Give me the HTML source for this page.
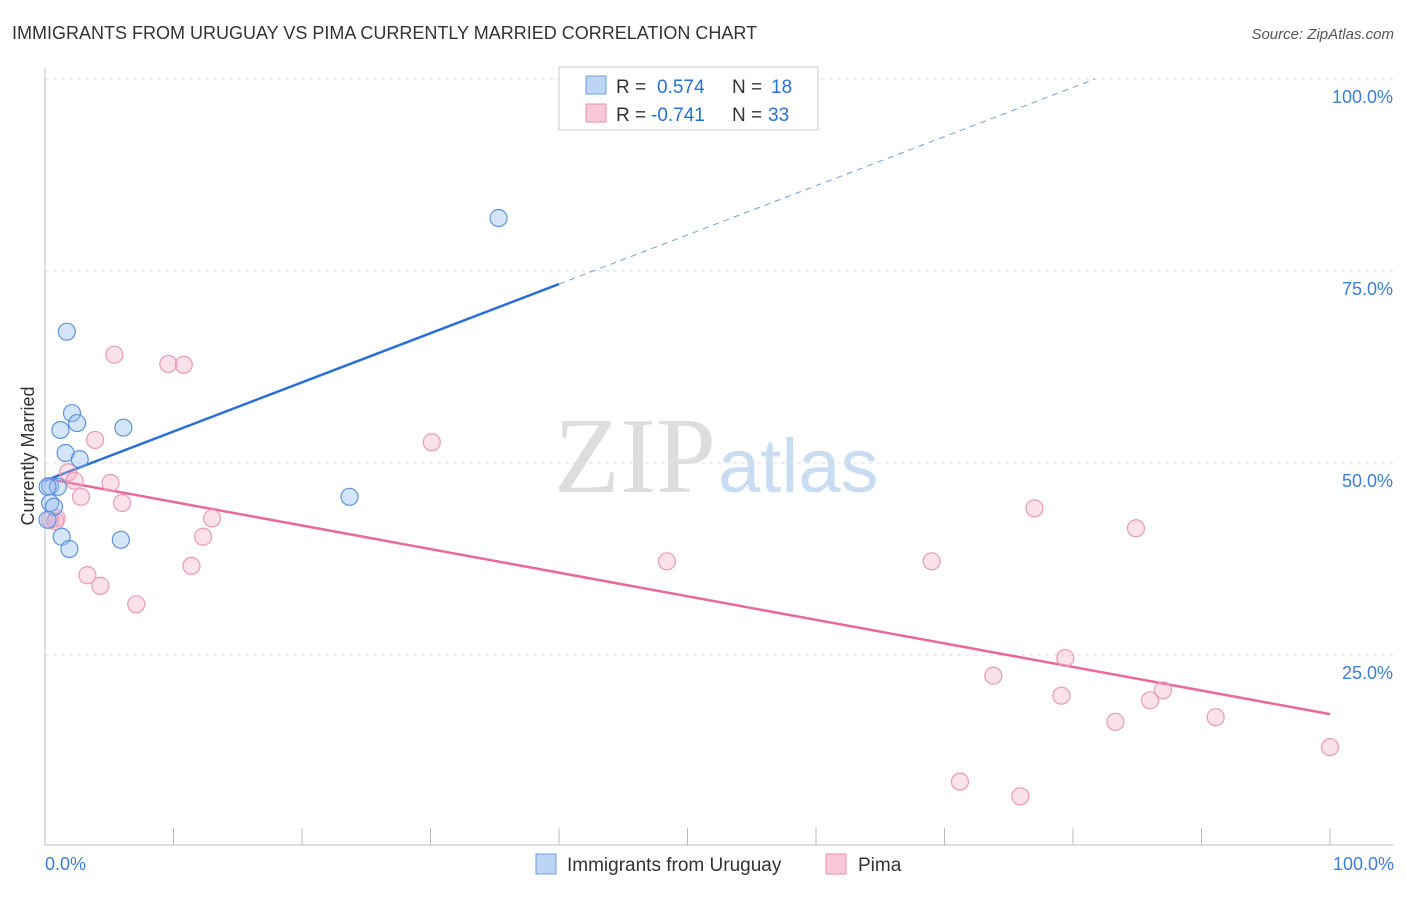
<!DOCTYPE html>
<html><head><meta charset="utf-8"><style>
body{margin:0;background:#fff;font-family:"Liberation Sans",sans-serif;}
</style></head><body>
<svg id="c" width="1406" height="892" xmlns="http://www.w3.org/2000/svg">
<text x="12" y="39" font-size="18" fill="#333">IMMIGRANTS FROM URUGUAY VS PIMA CURRENTLY MARRIED CORRELATION CHART</text>
<text x="1394" y="39" font-size="15" fill="#555" text-anchor="end" font-style="italic">Source: ZipAtlas.com</text>
<text x="716" y="492" font-size="108" fill="#ddd" text-anchor="end" font-family="Liberation Serif">ZIP</text>
<text x="718" y="492" font-size="76" fill="#c9dcf2">atlas</text>
<text transform="translate(34,456) rotate(-90)" font-size="18" fill="#333" text-anchor="middle">Currently Married</text>
<g id="grid"></g><g id="lines"></g><g id="pts"></g>
<g>
<rect x="559" y="67" width="259" height="63" fill="#fff" stroke="#ccc"/>
<rect x="586" y="76" width="20" height="18" fill="#bcd5f5" stroke="#6f9fe0"/>
<rect x="586" y="104" width="20" height="18" fill="#f9c8d6" stroke="#eb8fab"/>
<text x="616" y="93" font-size="19" fill="#333">R = <tspan x="657" fill="#2a6fd6">0.574</tspan><tspan x="732" fill="#333">N = </tspan><tspan x="771" fill="#2a6fd6">18</tspan></text>
<text x="616" y="121" font-size="19" fill="#333">R = <tspan x="651" fill="#2a6fd6">-0.741</tspan><tspan x="732" fill="#333">N = </tspan><tspan x="768" fill="#2a6fd6">33</tspan></text>
</g>
<g>
<rect x="536" y="854" width="20" height="20" fill="#bcd5f5" stroke="#6f9fe0"/>
<text x="567" y="871" font-size="19" fill="#333">Immigrants from Uruguay</text>
<rect x="826" y="854" width="20" height="20" fill="#f9c8d6" stroke="#eb8fab"/>
<text x="858" y="871" font-size="19" fill="#333">Pima</text>
</g>
<text x="45" y="870" font-size="18" fill="#3b7dd8">0.0%</text>
<text x="1394" y="870" font-size="18" fill="#3b7dd8" text-anchor="end">100.0%</text>
</svg>
<script>
const blueX=[1.7,2.1,2.5,1.2,1.6,2.7,6.1,0.4,1.0,0.4,0.7,1.3,1.9,5.9,23.7,35.3,0.2,0.2];
const blueY=[67.1,56.5,55.2,54.3,51.3,50.5,54.6,47.0,46.9,44.8,44.3,40.4,38.8,40.0,45.6,81.9,46.9,42.6];
const pinkX=[5.4,9.6,10.8,3.9,30.1,1.8,2.3,5.1,2.8,6.0,13.0,0.9,0.4,12.3,11.4,3.3,4.3,7.1,48.4,69.0,77.0,84.9,73.8,79.4,79.1,83.3,86.0,87.0,91.1,100,71.2,75.9,0.8];
const pinkY=[64.1,62.9,62.8,53.0,52.7,48.8,47.7,47.4,45.6,44.8,42.8,42.8,42.6,40.4,36.6,35.4,34.0,31.6,37.2,37.2,44.1,41.5,22.3,24.6,19.7,16.3,19.1,20.4,16.9,13.0,8.5,6.6,42.4];
const blueTrend=[47.7,0.64];
const pinkTrend=[48.0,-0.307];
const yTicks=[25,50,75,100];
const yTickLabels=["25.0%","50.0%","75.0%","100.0%"];
const NS="http://www.w3.org/2000/svg";
const sx=v=>45+v*12.85, sy=v=>847-v*7.68;
function mk(p,t,a){const e=document.createElementNS(NS,t);for(const k in a)e.setAttribute(k,a[k]);p.appendChild(e);return e;}
const g=document.getElementById('grid');
yTicks.forEach((t,i)=>{
 const l=mk(g,'line',{x1:45,x2:1394,y1:sy(t),y2:sy(t),stroke:'#ddd','stroke-dasharray':'4,4'});
 
 
 const tx=mk(g,'text',{x:1393,y:sy(t)+24,'font-size':18,fill:'#3b7dd8','text-anchor':'end'});
 tx.textContent=yTickLabels[i];
 
 
});
mk(g,'line',{x1:45,x2:45,y1:68,y2:845,stroke:'#bbb'});
mk(g,'line',{x1:45,x2:1394,y1:845,y2:845,stroke:'#bbb'});
for(let i=1;i<=10;i++){const x=sx(i*10);mk(g,'line',{x1:x,x2:x,y1:828,y2:845,stroke:'#bbb'});}
const L=document.getElementById('lines');
const bEnd=(100-blueTrend[0])/blueTrend[1];
let bl=mk(L,'line',{x1:sx(0),y1:sy(blueTrend[0]),x2:sx(40),y2:sy(blueTrend[0]+40*blueTrend[1]),stroke:'#2a6fd6','stroke-width':2.5});


let bd=mk(L,'line',{x1:sx(40),y1:sy(blueTrend[0]+40*blueTrend[1]),x2:sx(bEnd),y2:sy(100),stroke:'#6f9fe0','stroke-width':1,'stroke-dasharray':'6,5'});


let pl=mk(L,'line',{x1:sx(0),y1:sy(pinkTrend[0]),x2:sx(100),y2:sy(pinkTrend[0]+100*pinkTrend[1]),stroke:'#e8699a','stroke-width':2.5});


const P=document.getElementById('pts');
pinkX.forEach((x,i)=>{const c=mk(P,'circle',{cx:sx(x),cy:sy(pinkY[i]),r:8.5,fill:'rgba(244,170,195,0.35)',stroke:'#eb9ab4','stroke-width':1.2});
 
 });
blueX.forEach((x,i)=>{const c=mk(P,'circle',{cx:sx(x),cy:sy(blueY[i]),r:8.5,fill:'rgba(150,190,240,0.4)',stroke:'#5d93dd','stroke-width':1.2});
 
 });
</script>
</body></html>
